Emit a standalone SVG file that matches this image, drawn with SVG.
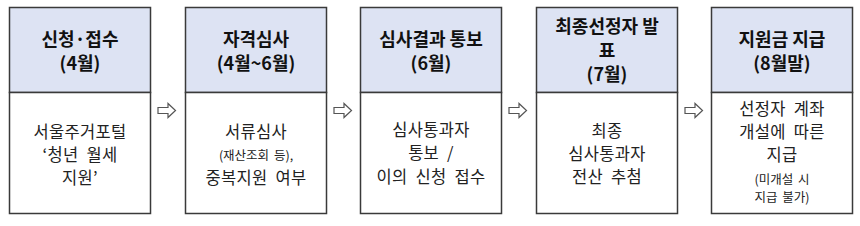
<svg xmlns="http://www.w3.org/2000/svg" width="860" height="226" viewBox="0 0 860 226">
<style>
.hd{fill:#dde3f3;stroke:#3a3a3a;stroke-width:1.5}
.bd{fill:#ffffff;stroke:#3a3a3a;stroke-width:1.5}
.ht{font-family:"Noto Sans CJK KR","Liberation Sans",sans-serif;font-weight:700;font-size:18px;fill:#111;text-anchor:middle}
.bt{font-family:"Noto Sans CJK KR","Liberation Sans",sans-serif;font-weight:400;font-size:16.5px;fill:#222;text-anchor:middle;letter-spacing:0.3px;word-spacing:4px}
.st{font-family:"Noto Sans CJK KR","Liberation Sans",sans-serif;font-weight:400;font-size:12.5px;fill:#222;text-anchor:middle;word-spacing:2px}
.ar{fill:#fff;stroke:#555;stroke-width:1.2;stroke-linejoin:miter}
</style>
<rect width="860" height="226" fill="#ffffff"/>
<g id="n1">
<rect class="hd" x="9.5" y="7.5" width="141" height="85"/>
<rect class="bd" x="9.5" y="92.5" width="141" height="121"/>
<text class="ht" x="80" y="46">신청·접수</text>
<text class="ht" x="80" y="70">(4월)</text>
<text class="bt" x="80" y="138">서울주거포털</text>
<text class="bt" x="80" y="161">‘청년 월세</text>
<text class="bt" x="80" y="184">지원’</text>
</g>
<g id="n2">
<rect class="hd" x="185.5" y="7.5" width="141" height="85"/>
<rect class="bd" x="185.5" y="92.5" width="141" height="121"/>
<text class="ht" x="256" y="46">자격심사</text>
<text class="ht" x="256" y="70">(4월~6월)</text>
<text class="bt" x="256" y="138">서류심사</text>
<text class="st" x="256" y="160">(재산조회 등),</text>
<text class="bt" x="256" y="184">중복지원 여부</text>
</g>
<g id="n3">
<rect class="hd" x="360.5" y="7.5" width="141" height="85"/>
<rect class="bd" x="360.5" y="92.5" width="141" height="121"/>
<text class="ht" x="431" y="46">심사결과 통보</text>
<text class="ht" x="431" y="70">(6월)</text>
<text class="bt" x="431" y="136">심사통과자</text>
<text class="bt" x="431" y="159">통보 /</text>
<text class="bt" x="431" y="183">이의 신청 접수</text>
</g>
<g id="n4">
<rect class="hd" x="536.5" y="7.5" width="141" height="85"/>
<rect class="bd" x="536.5" y="92.5" width="141" height="121"/>
<text class="ht" x="607" y="33">최종선정자 발</text>
<text class="ht" x="607" y="57">표</text>
<text class="ht" x="607" y="81">(7월)</text>
<text class="bt" x="607" y="137">최종</text>
<text class="bt" x="607" y="160">심사통과자</text>
<text class="bt" x="607" y="183">전산 추첨</text>
</g>
<g id="n5">
<rect class="hd" x="711.5" y="7.5" width="141" height="85"/>
<rect class="bd" x="711.5" y="92.5" width="141" height="121"/>
<text class="ht" x="782" y="46">지원금 지급</text>
<text class="ht" x="782" y="70">(8월말)</text>
<text class="bt" x="782" y="115">선정자 계좌</text>
<text class="bt" x="782" y="138">개설에 따른</text>
<text class="bt" x="782" y="161">지급</text>
<text class="st" x="782" y="184">(미개설 시</text>
<text class="st" x="782" y="202">지급 불가)</text>
</g>
<g id="connectors">
<path class="ar" d="M158 107.5 H168 V103.5 L175.5 110.5 L168 117.5 V113.5 H158 Z"/>
<path class="ar" d="M334 107.5 H344 V103.5 L351.5 110.5 L344 117.5 V113.5 H334 Z"/>
<path class="ar" d="M509 107.5 H519 V103.5 L526.5 110.5 L519 117.5 V113.5 H509 Z"/>
<path class="ar" d="M685 107.5 H695 V103.5 L702.5 110.5 L695 117.5 V113.5 H685 Z"/>
</g>
</svg>
